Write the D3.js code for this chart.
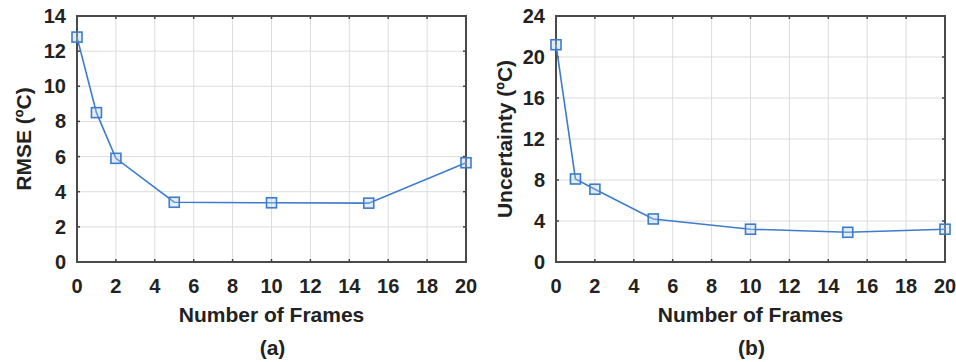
<!DOCTYPE html>
<html>
<head>
<meta charset="utf-8">
<script src="https://cdn.jsdelivr.net/npm/d3@7/dist/d3.min.js"></script>
<style>
  html, body { margin: 0; padding: 0; background: #fff; }
  svg { display: block; }
  text { font-family: "Liberation Sans", Arial, sans-serif; font-weight: bold; fill: #222; }
</style>
</head>
<body>
<svg id="chart" width="956" height="362"></svg>
<script>
// Frame counts evaluated
const frames = [0, 1, 2, 5, 10, 15, 20];
// Panel (a): RMSE in degrees Celsius
const rmse = [12.8, 8.5, 5.9, 3.4, 3.37, 3.35, 5.65];
// Panel (b): uncertainty in degrees Celsius
const uncertainty = [21.2, 8.1, 7.1, 4.2, 3.2, 2.9, 3.2];

const xTicks = [0, 2, 4, 6, 8, 10, 12, 14, 16, 18, 20];
const yTicksA = [0, 2, 4, 6, 8, 10, 12, 14];
const yTicksB = [0, 4, 8, 12, 16, 20, 24];

const svg = d3.select("#chart");
const lineColor = "#3d7ccc";

function panel(opts) {
  const { left, right, top, bottom, values, yMax, yTicks, yLabel, yLabelX, caption } = opts;
  const x = d3.scaleLinear().domain([0, 20]).range([left, right]);
  const y = d3.scaleLinear().domain([0, yMax]).range([bottom, top]);
  const g = svg.append("g");

  // grid
  g.append("g").selectAll("line").data(xTicks).join("line")
    .attr("x1", d => x(d)).attr("x2", d => x(d))
    .attr("y1", top).attr("y2", bottom)
    .attr("stroke", "#dcdcdc").attr("stroke-width", 1);
  g.append("g").selectAll("line").data(yTicks).join("line")
    .attr("y1", d => y(d)).attr("y2", d => y(d))
    .attr("x1", left).attr("x2", right)
    .attr("stroke", "#dcdcdc").attr("stroke-width", 1);

  // inward tick marks on all four sides
  const tl = 3;
  const ticks = g.append("g").attr("stroke", "#444").attr("stroke-width", 1.5);
  xTicks.forEach(d => {
    ticks.append("line").attr("x1", x(d)).attr("x2", x(d)).attr("y1", bottom).attr("y2", bottom - tl);
    ticks.append("line").attr("x1", x(d)).attr("x2", x(d)).attr("y1", top).attr("y2", top + tl);
  });
  yTicks.forEach(d => {
    ticks.append("line").attr("y1", y(d)).attr("y2", y(d)).attr("x1", left).attr("x2", left + tl);
    ticks.append("line").attr("y1", y(d)).attr("y2", y(d)).attr("x1", right).attr("x2", right - tl);
  });

  // frame
  g.append("rect").attr("x", left).attr("y", top)
    .attr("width", right - left).attr("height", bottom - top)
    .attr("fill", "none").attr("stroke", "#4a4a4a").attr("stroke-width", 2);

  // tick labels
  g.append("g").selectAll("text").data(xTicks).join("text")
    .attr("x", d => x(d)).attr("y", bottom + 31)
    .attr("text-anchor", "middle").attr("font-size", 20)
    .text(d => d);
  g.append("g").selectAll("text").data(yTicks).join("text")
    .attr("x", left - 11).attr("y", d => y(d) + 7)
    .attr("text-anchor", "end").attr("font-size", 20)
    .text(d => d);

  // axis titles
  g.append("text").attr("x", (left + right) / 2).attr("y", bottom + 60)
    .attr("text-anchor", "middle").attr("font-size", 21)
    .text("Number of Frames");
  g.append("text")
    .attr("transform", `translate(${yLabelX},${(top + bottom) / 2}) rotate(-90)`)
    .attr("text-anchor", "middle").attr("font-size", 21)
    .text(yLabel);
  g.append("text").attr("x", (left + right) / 2 + 1).attr("y", bottom + 93)
    .attr("text-anchor", "middle").attr("font-size", 21)
    .text(caption);

  // data line and square markers
  const line = d3.line().x((d, i) => x(frames[i])).y(d => y(d));
  g.append("path").datum(values).attr("d", line)
    .attr("fill", "none").attr("stroke", lineColor).attr("stroke-width", 1.6);
  const s = 10;
  g.append("g").selectAll("rect").data(values).join("rect")
    .attr("x", (d, i) => x(frames[i]) - s / 2)
    .attr("y", d => y(d) - s / 2)
    .attr("width", s).attr("height", s)
    .attr("fill", "rgba(180,205,240,0.35)")
    .attr("stroke", lineColor).attr("stroke-width", 1.6);
}

panel({ left: 77, right: 466, top: 16, bottom: 262, values: rmse, yMax: 14,
  yTicks: yTicksA, yLabel: "RMSE (ºC)", yLabelX: 31, caption: "(a)" });
panel({ left: 556, right: 945, top: 16, bottom: 262, values: uncertainty, yMax: 24,
  yTicks: yTicksB, yLabel: "Uncertainty (ºC)", yLabelX: 512, caption: "(b)" });
</script>
</body>
</html>
